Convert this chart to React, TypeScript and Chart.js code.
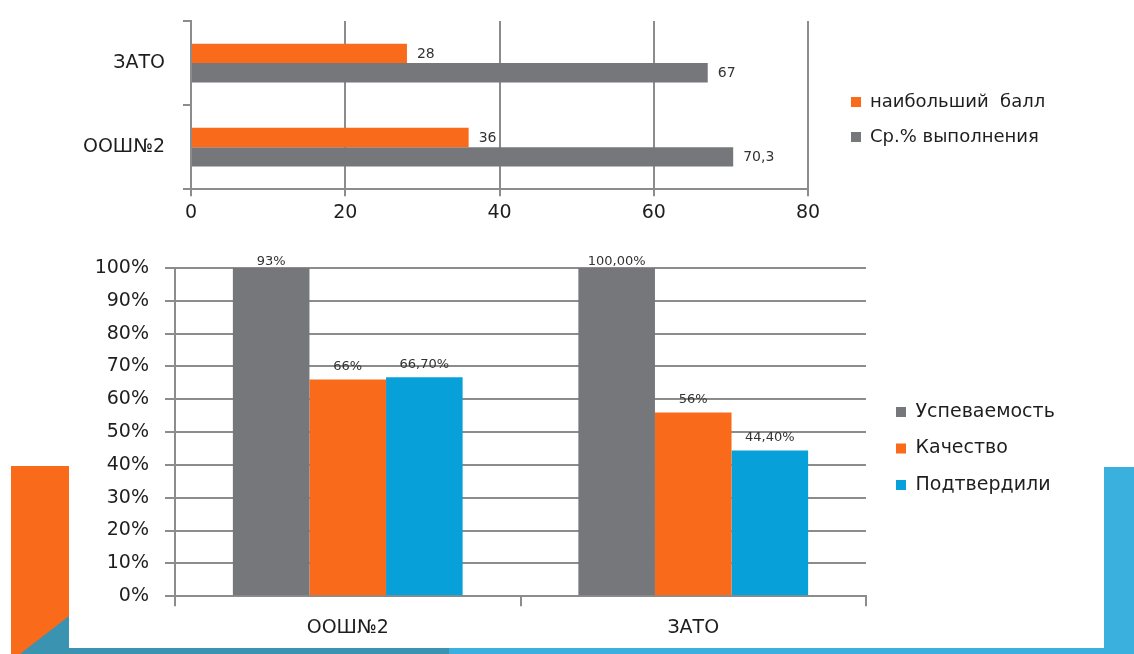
import React, { useEffect, useRef } from "react";
import { Chart, registerables } from "chart.js";

Chart.register(...registerables);

const FONT = "'DejaVu Sans', 'Liberation Sans', sans-serif";
const ORANGE = "#F96A1B";
const GRAY = "#76777B";
const BLUE = "#08A0D8";
const GRID = "#8C8C8C";
const TEXT = "#1E1E1E";
const LABEL = "#333333";

// ---- Top chart data ----
const scoreCategories = ["ЗАТО", "ООШ№2"];
const scoreSeriesNames = ["наибольший  балл", "Ср.% выполнения"];
const highestScore = [28, 36];
const averageCompletion = [67, 70.3];
const scoreAxisTicks = [0, 20, 40, 60, 80];

// ---- Bottom chart data ----
const schoolCategories = ["ООШ№2", "ЗАТО"];
const resultSeriesNames = ["Успеваемость", "Качество", "Подтвердили"];
const successRate = [1.0, 1.0];
const qualityRate = [0.66, 0.56];
const confirmedRate = [0.667, 0.444];
const successLabels = ["93%", "100,00%"];
const qualityLabels = ["66%", "56%"];
const confirmedLabels = ["66,70%", "44,40%"];
const percentTicks = [0, 0.1, 0.2, 0.3, 0.4, 0.5, 0.6, 0.7, 0.8, 0.9, 1.0];

function makeValueLabels(texts: string[][], horizontal: boolean) {
  return {
    id: "valueLabels",
    afterDatasetsDraw(chart: any) {
      const ctx = chart.ctx;
      ctx.save();
      ctx.fillStyle = LABEL;
      ctx.font = `${horizontal ? 14 : 13}px ${FONT}`;
      ctx.textBaseline = "middle";
      chart.data.datasets.forEach((_ds: any, di: number) => {
        const meta = chart.getDatasetMeta(di);
        meta.data.forEach((el: any, i: number) => {
          const t = texts[di][i];
          if (horizontal) {
            ctx.textAlign = "left";
            ctx.fillText(t, el.x + 10, el.y + 1);
          } else {
            ctx.textAlign = "center";
            const y = Math.max(el.y - 13, chart.chartArea.top - 6);
            ctx.fillText(t, el.x, y);
          }
        });
      });
      ctx.restore();
    },
  };
}

const fmt = (v: number) => String(v).replace(".", ",");

// spacer axes: an inner gap between the plot and the legend, and an outer filler
function gapAxis(width: number): any {
  return {
    type: "linear",
    position: "right",
    display: false,
    weight: 0,
    afterFit: (s: any) => {
      s.width = width;
    },
  };
}
function fillerAxis(canvasWidth: number, plotRight: number, gap: number): any {
  return {
    type: "linear",
    position: "right",
    display: false,
    weight: 2000,
    afterFit: (s: any) => {
      const lw = s.chart.legend ? s.chart.legend.width : 0;
      s.width = Math.max(0, canvasWidth - plotRight - gap - lw);
    },
  };
}

function topConfig(): any {
  return {
    type: "bar",
    data: {
      labels: scoreCategories,
      datasets: [
        { label: scoreSeriesNames[0], data: highestScore, backgroundColor: ORANGE, borderWidth: 0, categoryPercentage: 0.46, barPercentage: 1 },
        { label: scoreSeriesNames[1], data: averageCompletion, backgroundColor: GRAY, borderWidth: 0, categoryPercentage: 0.46, barPercentage: 1 },
      ],
    },
    options: {
      indexAxis: "y",
      responsive: false,
      animation: false,
      layout: { padding: { left: 0, top: 21, right: 0, bottom: 1 } },
      scales: {
        x: {
          type: "linear",
          min: 0,
          max: 80,
          afterBuildTicks: (s: any) => {
            s.ticks = scoreAxisTicks.map((v) => ({ value: v }));
          },
          grid: { color: GRID, lineWidth: 2, tickLength: 7 },
          border: { color: GRID, width: 2 },
          ticks: { font: { family: FONT, size: 19 }, color: TEXT, padding: 5 },
        },
        y: {
          type: "category",
          grid: { offset: true, drawOnChartArea: false, color: GRID, lineWidth: 2, tickLength: 8 },
          border: { color: GRID, width: 2 },
          ticks: { font: { family: FONT, size: 19 }, color: TEXT, padding: 18 },
          afterFit: (s: any) => {
            s.width = 191;
            s.paddingTop = 0;
            s.paddingBottom = 0;
          },
        },
        gap: gapAxis(26),
        filler: fillerAxis(1134, 808, 26),
      },
      plugins: {
        legend: {
          position: "right",
          align: "start",
          fullSize: false,
          title: { display: true, text: "", font: { size: 12 }, padding: { top: 40.6, bottom: 0 } },
          labels: { boxWidth: 10, boxHeight: 10, padding: 17, color: TEXT, font: { family: FONT, size: 18 } },
        },
        tooltip: { enabled: false },
      },
    },
    plugins: [makeValueLabels([highestScore.map(fmt), averageCompletion.map(fmt)], true)],
  };
}

function bottomConfig(): any {
  return {
    type: "bar",
    data: {
      labels: schoolCategories,
      datasets: [
        { label: resultSeriesNames[0], data: successRate, backgroundColor: GRAY, borderWidth: 0, categoryPercentage: 0.665, barPercentage: 1 },
        { label: resultSeriesNames[1], data: qualityRate, backgroundColor: ORANGE, borderWidth: 0, categoryPercentage: 0.665, barPercentage: 1 },
        { label: resultSeriesNames[2], data: confirmedRate, backgroundColor: BLUE, borderWidth: 0, categoryPercentage: 0.665, barPercentage: 1 },
      ],
    },
    options: {
      responsive: false,
      animation: false,
      layout: { padding: { left: 0, top: 38, right: 0, bottom: 5 } },
      scales: {
        x: {
          type: "category",
          grid: { offset: true, drawOnChartArea: false, color: GRID, lineWidth: 2, tickLength: 10 },
          border: { color: GRID, width: 2 },
          ticks: { font: { family: FONT, size: 19 }, color: TEXT, padding: 10 },
        },
        y: {
          type: "linear",
          min: 0,
          max: 1,
          afterBuildTicks: (s: any) => {
            s.ticks = percentTicks.map((v) => ({ value: v }));
          },
          grid: { color: GRID, lineWidth: 2, tickLength: 10 },
          border: { color: GRID, width: 2 },
          ticks: {
            font: { family: FONT, size: 19 },
            color: TEXT,
            padding: 16,
            callback: (v: any) => Math.round(Number(v) * 100) + "%",
          },
          afterFit: (s: any) => {
            s.width = 175;
          },
        },
        gap: gapAxis(12.5),
        filler: fillerAxis(1134, 866, 12.5),
      },
      plugins: {
        legend: {
          position: "right",
          align: "start",
          fullSize: false,
          title: { display: true, text: "", font: { size: 12 }, padding: { top: 102.6, bottom: 0 } },
          labels: { boxWidth: 10, boxHeight: 10, padding: 17.5, color: TEXT, font: { family: FONT, size: 19 } },
        },
        tooltip: { enabled: false },
      },
    },
    plugins: [makeValueLabels([successLabels, qualityLabels, confirmedLabels], false)],
  };
}

function ChartCanvas(props: { make: () => any; left: number; top: number; width: number; height: number }) {
  const ref = useRef<HTMLCanvasElement>(null);
  useEffect(() => {
    const chart = new Chart(ref.current as HTMLCanvasElement, props.make());
    return () => chart.destroy();
  }, []);
  return (
    <canvas
      ref={ref}
      width={props.width}
      height={props.height}
      style={{ position: "absolute", left: props.left, top: props.top, display: "block" }}
    />
  );
}

export default function App() {
  return (
    <div style={{ position: "absolute", left: 0, top: 0, width: 1134, height: 654, background: "#ffffff", overflow: "hidden" }}>
      <svg width={1134} height={654} style={{ position: "absolute", left: 0, top: 0 }}>
        <rect x={11} y={466} width={58} height={188} fill="#F96B1B" />
        <polygon points="20,654 69,616 69,654" fill="#3A93B0" />
        <rect x={69} y={648} width={380} height={6} fill="#3A93B0" />
        <rect x={449} y={648} width={685} height={6} fill="#3AB0DF" />
        <rect x={1104} y={467} width={30} height={187} fill="#3AB0DF" />
      </svg>
      <ChartCanvas make={topConfig} left={0} top={0} width={1134} height={230} />
      <ChartCanvas make={bottomConfig} left={0} top={230} width={1134} height={424} />
    </div>
  );
}
